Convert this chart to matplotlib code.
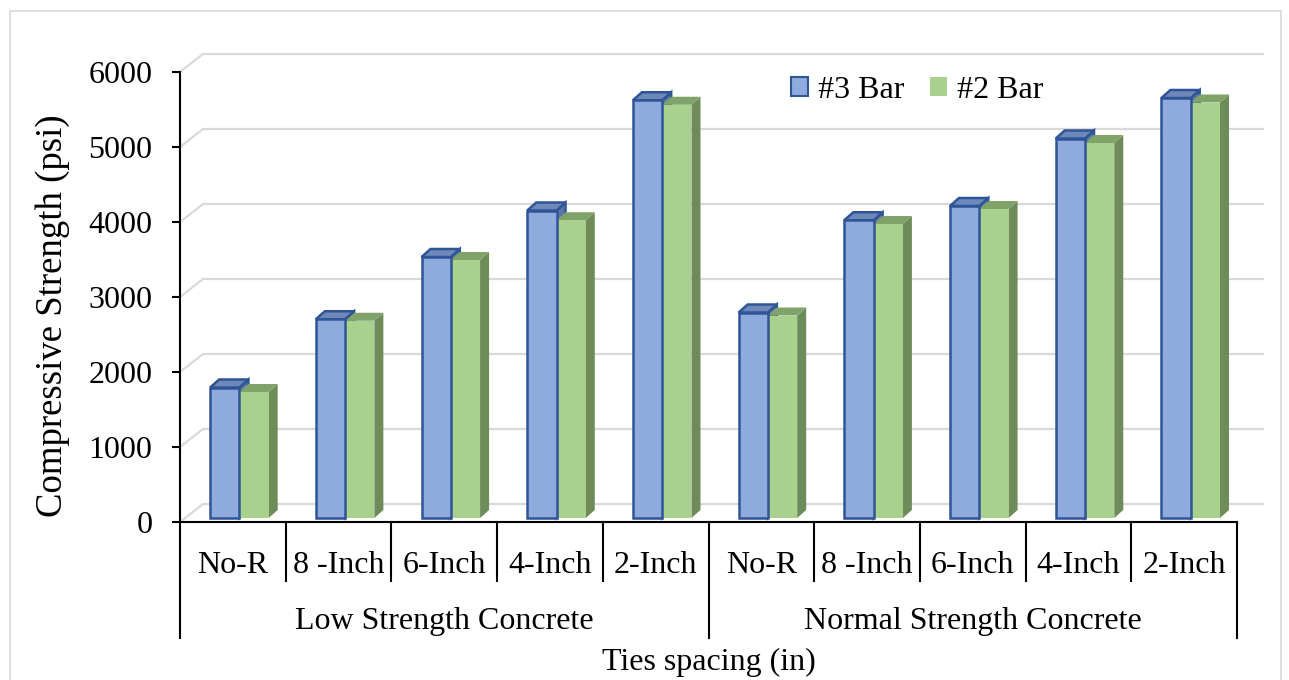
import matplotlib
matplotlib.use("Agg")
import matplotlib.pyplot as plt
from matplotlib.patches import Polygon, Rectangle, Patch

plt.rcParams['font.family'] = ['Liberation Serif', 'DejaVu Serif']

# ---- data ----
categories = ['No-R', '8 -Inch', '6-Inch', '4-Inch', '2-Inch',
              'No-R', '8 -Inch', '6-Inch', '4-Inch', '2-Inch']
groups = ['Low Strength Concrete', 'Normal Strength Concrete']
series_names = ['#3 Bar', '#2 Bar']
bar3_values = [1740, 2650, 3480, 4100, 5570, 2740, 3970, 4160, 5060, 5600]
bar2_values = [1680, 2630, 3440, 3970, 5510, 2700, 3920, 4120, 5000, 5540]
y_ticks = [0, 1000, 2000, 3000, 4000, 5000, 6000]

# ---- styling ----
FS = 23
GRID = '#D9D9D9'
blue_front, blue_top, blue_side, blue_edge = '#8FAADC', '#6D88B9', '#5B77A8', '#2F5597'
green_front, green_top, green_side = '#A9D18E', '#80A36A', '#6E8B5A'

W, H = 1289, 680
fig = plt.figure(figsize=(W / 100, H / 100), dpi=100)
ax = fig.add_axes([180 / W, 158 / H, 1057 / W, 450 / H])
ax.set_xlim(-0.5, 9.5)
ax.set_ylim(0, 6000)

# pixel -> data unit helpers
ux = 10 / 1057
uy = 6000 / 450

# back wall gridlines with oblique floor/wall offset
wall_dx, wall_dy = 23 * ux, 18 * uy
for v in y_ticks:
    ax.plot([-0.5, -0.5 + wall_dx, 9.5 + 26 * ux], [v, v + wall_dy, v + wall_dy],
            color=GRID, lw=1.6, clip_on=False, zorder=1, solid_joinstyle='miter')

# pseudo-3D columns
bw = 0.277
depth_dx, depth_dy = 9 * ux, 8 * uy
base = 4 * uy


def column(x0, val, front, top, side, edge, lw, zf, zs):
    y1 = base + val
    ax.add_patch(Polygon([(x0 + bw, base), (x0 + bw, y1), (x0 + bw + depth_dx, y1 + depth_dy),
                          (x0 + bw + depth_dx, base + depth_dy)],
                         closed=True, fc=side, ec=edge, lw=lw, zorder=zs, clip_on=False))
    ax.add_patch(Polygon([(x0, y1), (x0 + bw, y1), (x0 + bw + depth_dx, y1 + depth_dy),
                          (x0 + depth_dx, y1 + depth_dy)],
                         closed=True, fc=top, ec=edge, lw=lw, zorder=zf, clip_on=False,
                         joinstyle='miter'))
    ax.add_patch(Rectangle((x0, base), bw, val, fc=front, ec=edge, lw=lw, zorder=zf,
                           clip_on=False, joinstyle='miter'))


for i, (v3, v2) in enumerate(zip(bar3_values, bar2_values)):
    x_blue = i - 0.215
    column(x_blue, v3, blue_front, blue_top, blue_side, blue_edge, 1.8, 4, 2)
    column(x_blue + bw, v2, green_front, green_top, green_side, 'none', 0, 3, 3)

# axes
for s in ['top', 'right']:
    ax.spines[s].set_visible(False)
for s in ['left', 'bottom']:
    ax.spines[s].set_color('black')
    ax.spines[s].set_linewidth(1.5)
    ax.spines[s].set_zorder(5)
ax.set_xticks([])
ax.set_yticks(y_ticks)
ax.set_yticklabels([str(t) for t in y_ticks], fontsize=FS)
ax.tick_params(axis='y', length=5.8, width=1.5, pad=14, color='black')
ax.patch.set_alpha(0)

# multi-level category axis
tx = ax.get_xaxis_transform()
for b in [0.5, 1.5, 2.5, 3.5, 5.5, 6.5, 7.5, 8.5]:
    ax.plot([b, b], [0, -0.131], color='black', lw=1.5, transform=tx, clip_on=False)
for b in [-0.5, 4.5, 9.5]:
    ax.plot([b, b], [0, -0.258], color='black', lw=1.5, transform=tx, clip_on=False)
for i, c in enumerate(categories):
    ax.text(i, -0.096, c, transform=tx, ha='center', va='center', fontsize=FS)
for g, gx in zip(groups, [2, 7]):
    ax.text(gx, -0.22, g, transform=tx, ha='center', va='center', fontsize=FS)
ax.text(4.5, -0.313, 'Ties spacing (in)', transform=tx, ha='center', va='center', fontsize=FS)

fig.text(53 / W, 1 - 316 / H, 'Compressive Strength (psi)', rotation=90,
         ha='center', va='center', fontsize=26.5)

fig.legend(handles=[Patch(fc=blue_front, ec=blue_edge, lw=1.5), Patch(fc=green_front)],
           labels=series_names, loc='center', bbox_to_anchor=(917 / W, 1 - 90 / H),
           ncol=2, frameon=False, fontsize=FS, handlelength=0.55, handleheight=0.55,
           handletextpad=0.3, columnspacing=0.8)

# chart area border
fig.patches.append(Rectangle((10 / W, -0.05), 1271 / W, (H - 11) / H + 0.05,
                             transform=fig.transFigure, fill=False, ec=GRID, lw=1.2))

fig.savefig('out.png', dpi=100)
